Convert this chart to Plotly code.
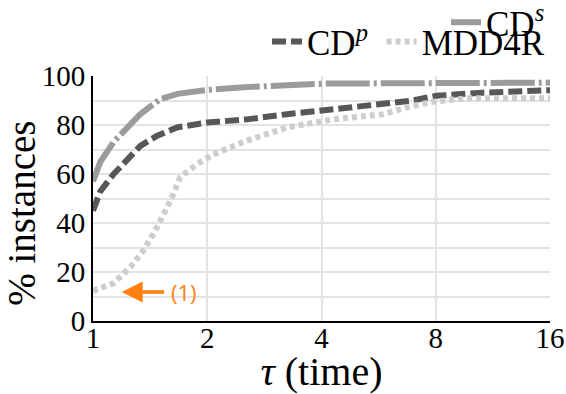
import math
import plotly.graph_objects as go

# ---- data ----
tau_cds = [1.0, 1.046, 1.132, 1.333, 1.505, 1.668, 2.0, 2.55, 4.13, 7.86, 16]
pct_cds = [57, 65, 73, 84.5, 90.6, 92.7, 94.3, 95.5, 96.9, 97.3, 97.3]

tau_cdp = [1.0, 1.046, 1.134, 1.23, 1.333, 1.475, 1.665, 2.0, 2.54, 3.24, 4.13, 5.26, 6.83, 8.03, 10.6, 16]
pct_cdp = [45, 53, 60, 66, 71.5, 75.6, 79, 81, 82.3, 84.4, 86, 87.8, 89.8, 91.9, 93.2, 94.2]

tau_mdd = [1.0, 1.132, 1.255, 1.36, 1.475, 1.599, 1.698, 1.879, 2.074, 2.54, 3.24, 4.29, 5.8, 6.83, 7.86, 9.65, 16]
pct_mdd = [12.3, 15.4, 22, 28.9, 38.3, 49, 58.7, 64, 68, 73.6, 79, 82.3, 84.4, 87.5, 89.5, 90.9, 90.9]

x_ticks = [1, 2, 4, 8, 16]
y_ticks = [0, 20, 40, 60, 80, 100]

note_text = "(1)"
note_tau = 1.19
note_pct = 11.8

SERIF = "Liberation Serif"
ORANGE = "#ff8011"

fig = go.Figure()

fig.add_trace(go.Scatter(
    x=tau_cds, y=pct_cds, mode="lines", name="CD<sup><i>s</i></sup>",
    line=dict(color="#9b9b9b", width=6, dash="44px,4px,3px,4px"),
    legend="legend",
))
fig.add_trace(go.Scatter(
    x=tau_cdp, y=pct_cdp, mode="lines", name="CD<sup><i>p</i></sup>&nbsp;",
    line=dict(color="#575757", width=6, dash="14px,5px"),
    legend="legend2",
))
fig.add_trace(go.Scatter(
    x=tau_mdd, y=pct_mdd, mode="lines", name="MDD4R",
    line=dict(color="#cdcdcd", width=6, dash="5px,4px"),
    legend="legend2",
))

fig.add_annotation(
    x=math.log10(note_tau), y=note_pct, xref="x", yref="y",
    text=note_text, showarrow=True, ax=62, ay=0,
    arrowhead=2, arrowsize=1.2, arrowwidth=3.5, arrowcolor=ORANGE,
    borderpad=6,
    font=dict(family="Open Sans", size=22, color=ORANGE),
)

fig.update_layout(
    width=566, height=394,
    margin=dict(l=93, r=16, t=76, b=73, autoexpand=False),
    paper_bgcolor="white", plot_bgcolor="white",
    font=dict(family=SERIF, color="black"),
    xaxis=dict(
        type="log", range=[0, math.log10(16)], tickvals=x_ticks,
        ticktext=[str(v) for v in x_ticks],
        showgrid=True, gridcolor="#e3e3e3", gridwidth=1.5,
        showline=True, linecolor="black", linewidth=2,
        ticks="", tickfont=dict(size=29, family=SERIF),
        ticklabelstandoff=-10,
        title=dict(text="<i>τ</i> (time)", font=dict(size=40, family=SERIF), standoff=0),
        zeroline=False, automargin=False,
    ),
    yaxis=dict(
        range=[0, 100], tickvals=y_ticks,
        showgrid=True, gridcolor="#e3e3e3", gridwidth=1.5,
        minor=dict(dtick=10, showgrid=True, gridcolor="#e3e3e3", gridwidth=1.5),
        showline=True, linecolor="black", linewidth=2,
        ticks="", tickfont=dict(size=29, family=SERIF),
        title=dict(text="% instances&nbsp;&nbsp;&nbsp;", font=dict(size=39, family=SERIF), standoff=2),
        zeroline=False, automargin=False,
    ),
    legend=dict(
        x=1, xanchor="right", y=1.339, yanchor="top", yref="paper",
        font=dict(size=35, family=SERIF), bgcolor="rgba(0,0,0,0)",
        orientation="h", itemwidth=30,
    ),
    legend2=dict(
        x=1, xanchor="right", y=1.26, yanchor="top", yref="paper",
        font=dict(size=35, family=SERIF), bgcolor="rgba(0,0,0,0)",
        orientation="h", itemwidth=30,
    ),
    showlegend=True,
)

fig.write_html(
    "out.html",
    config={"displayModeBar": False},
    post_script="document.body.style.margin='0';document.body.style.padding='0';",
)
